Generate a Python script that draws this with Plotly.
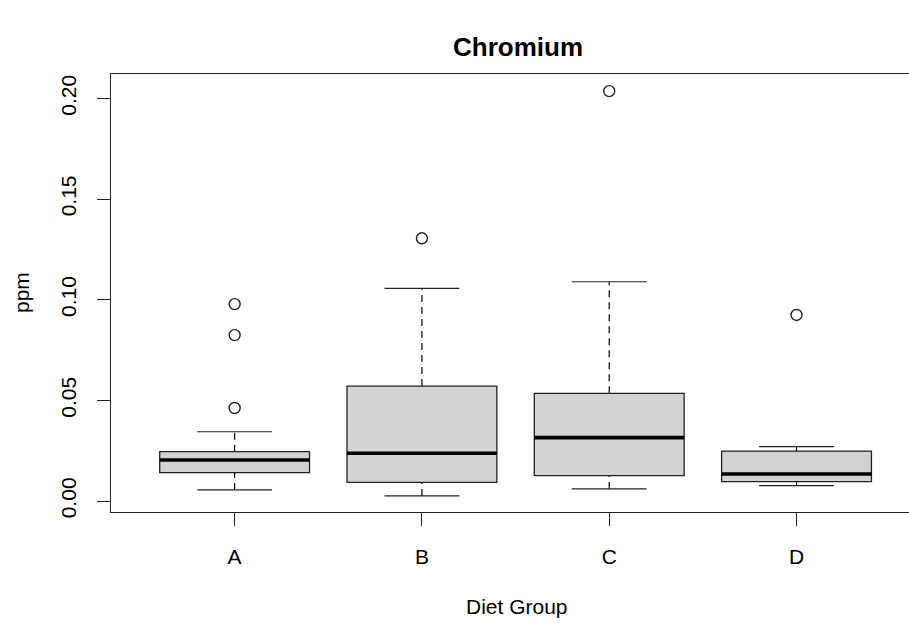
import plotly.graph_objects as go

# ---- data ----
groups = ["A", "B", "C", "D"]
lower_whisker = [0.0055, 0.0025, 0.0060, 0.0076]
q1 = [0.0141, 0.0093, 0.0126, 0.0096]
median = [0.0204, 0.0237, 0.0315, 0.0134]
q3 = [0.0245, 0.0571, 0.0535, 0.0248]
upper_whisker = [0.0344, 0.1056, 0.1089, 0.0270]
outlier_group = ["A", "A", "A", "B", "C", "D"]
outlier_value = [0.0978, 0.0824, 0.0462, 0.1305, 0.2036, 0.0924]

y_tick_vals = [0.00, 0.05, 0.10, 0.15, 0.20]
y_tick_text = ["0.00", "0.05", "0.10", "0.15", "0.20"]

FONT = "Liberation Sans, Arial, Helvetica, sans-serif"
BOX_W = 0.8
CAP_W = 0.4

pos = {g: i + 1 for i, g in enumerate(groups)}

fig = go.Figure()
shapes = []
for i, g in enumerate(groups):
    x = pos[g]
    # whiskers (dashed)
    shapes.append(dict(type="line", xref="x", yref="y", x0=x, x1=x, y0=q3[i], y1=upper_whisker[i],
                       line=dict(color="black", width=1.2, dash="7px,5px"), layer="above"))
    shapes.append(dict(type="line", xref="x", yref="y", x0=x, x1=x, y0=lower_whisker[i], y1=q1[i],
                       line=dict(color="black", width=1.2, dash="7px,5px"), layer="above"))
    # staples
    for v in (lower_whisker[i], upper_whisker[i]):
        shapes.append(dict(type="line", xref="x", yref="y", x0=x - CAP_W / 2, x1=x + CAP_W / 2, y0=v, y1=v,
                           line=dict(color="#222222", width=1.2), layer="above"))
    # box
    shapes.append(dict(type="rect", xref="x", yref="y", x0=x - BOX_W / 2, x1=x + BOX_W / 2, y0=q1[i], y1=q3[i],
                       fillcolor="#D3D3D3", line=dict(color="#222222", width=1.3), layer="above"))
    # median
    shapes.append(dict(type="line", xref="x", yref="y", x0=x - BOX_W / 2, x1=x + BOX_W / 2, y0=median[i], y1=median[i],
                       line=dict(color="black", width=3.6), layer="above"))

fig.add_trace(go.Scatter(
    x=[pos[g] for g in outlier_group], y=outlier_value, mode="markers",
    marker=dict(symbol="circle-open", size=11, color="#222222", line=dict(width=1.4, color="#222222")),
    showlegend=False, hoverinfo="y"))

fig.update_layout(
    width=909, height=623,
    margin=dict(l=111, r=0, t=74, b=111),
    paper_bgcolor="white", plot_bgcolor="white",
    font=dict(family=FONT, size=21, color="black"),
    showlegend=False,
    shapes=shapes,
    title=dict(text="<b>Chromium</b>", x=(518 - 111) / 798, xref="paper", xanchor="center",
               y=1 - 47 / 623, yref="container", yanchor="middle",
               font=dict(family=FONT, size=26, color="black")),
    annotations=[
        dict(text="Diet Group", xref="paper", yref="paper", x=(517 - 111) / 798, y=-(606 - 512) / 438,
             xanchor="center", yanchor="middle", showarrow=False, font=dict(family=FONT, size=21, color="black")),
        dict(text="ppm", xref="paper", yref="paper", x=-(111 - 21) / 798, y=0.5, textangle=-90,
             xanchor="center", yanchor="middle", showarrow=False, font=dict(family=FONT, size=21, color="black")),
    ],
)

fig.update_xaxes(
    range=[0.34, 0.34 + 798 / 187.3],
    tickmode="array", tickvals=[pos[g] for g in groups], ticktext=groups,
    ticks="outside", ticklen=13, tickwidth=1.2, tickcolor="#222222",
    showline=True, linecolor="#222222", linewidth=1.3, mirror=True,
    showgrid=False, zeroline=False, ticklabelstandoff=13,
    tickfont=dict(family=FONT, size=21, color="black"),
)
fig.update_yaxes(
    range=[-0.00546, 0.2121],
    tickmode="array", tickvals=y_tick_vals, ticktext=y_tick_text, tickangle=-90,
    ticks="outside", ticklen=13, tickwidth=1.2, tickcolor="#222222",
    showline=True, linecolor="#222222", linewidth=1.3, mirror=False,
    showgrid=False, zeroline=False, ticklabelstandoff=12,
    tickfont=dict(family=FONT, size=21, color="black"),
)

fig.write_html("out.html", config={"displayModeBar": False})
